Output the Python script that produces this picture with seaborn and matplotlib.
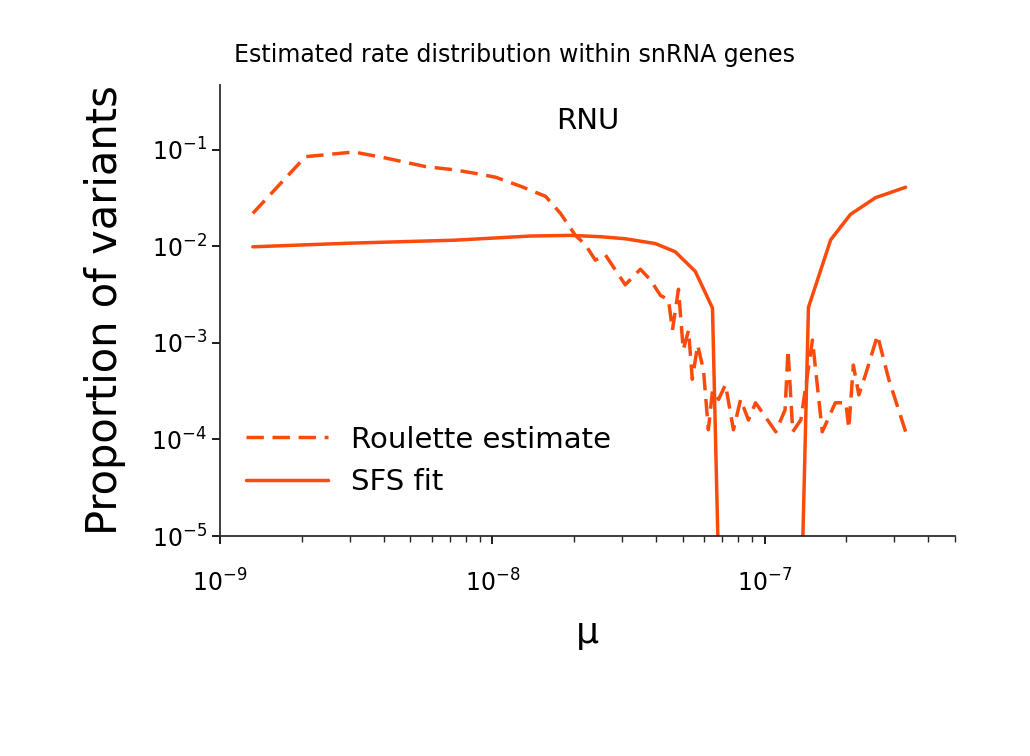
import numpy as np
import matplotlib
matplotlib.use("Agg")
import matplotlib.pyplot as plt
import seaborn as sns
import pandas as pd

roulette_mu = [1.32e-9, 2.06e-9, 3.1e-9, 4.0e-9, 5.7e-9, 7.3e-9, 9.0e-9, 1.03e-8, 1.27e-8, 1.57e-8,
               1.78e-8, 2.02e-8, 2.2e-8, 2.39e-8, 2.6e-8, 3.08e-8, 3.5e-8, 3.81e-8, 4.15e-8, 4.44e-8,
               4.59e-8, 4.83e-8, 5.03e-8, 5.26e-8, 5.43e-8, 5.68e-8, 5.97e-8, 6.22e-8, 6.44e-8, 6.78e-8,
               7.19e-8, 7.69e-8, 8.17e-8, 8.73e-8, 9.27e-8, 1.10e-7, 1.19e-7, 1.22e-7, 1.27e-7, 1.36e-7,
               1.50e-7, 1.63e-7, 1.82e-7, 1.99e-7, 2.04e-7, 2.12e-7, 2.22e-7, 2.35e-7, 2.60e-7, 2.86e-7, 3.30e-7]
roulette_p = [0.022, 0.085, 0.095, 0.083, 0.067, 0.062, 0.056, 0.052, 0.042, 0.033,
              0.022, 0.013, 0.0104, 0.0072, 0.0082, 0.004, 0.0058, 0.0045, 0.0031, 0.0028,
              0.00136, 0.0036, 0.00085, 0.00135, 0.00042, 0.00095, 0.00052, 0.000126, 0.00032, 0.00026,
              0.00037, 0.000126, 0.00026, 0.000159, 0.00024, 0.00012, 0.000203, 0.00085, 0.00012, 0.00016,
              0.00107, 0.00012, 0.00024, 0.00024, 0.00013, 0.00059, 0.00029, 0.00047, 0.0012, 0.00042, 0.00012]

sfs_mu = [1.32e-9, 3.0e-9, 7.3e-9, 1.38e-8, 1.94e-8, 2.5e-8, 3.08e-8, 3.97e-8, 4.7e-8, 5.57e-8,
          6.44e-8, 7.0e-8, 1.0e-7, 1.33e-7, 1.45e-7, 1.75e-7, 2.07e-7, 2.56e-7, 3.3e-7]
sfs_p = [0.0099, 0.0108, 0.0116, 0.0128, 0.013, 0.0126, 0.012, 0.0107, 0.0088, 0.0055,
         0.0023, 1e-7, 1e-9, 1e-7, 0.00233, 0.0117, 0.0215, 0.032, 0.041]

color = "#fa4a0c"
sns.set_theme(style="ticks")
plt.rcParams['font.family'] = ['DejaVu Sans']
plt.rcParams['text.color'] = 'black'
plt.rcParams['axes.labelcolor'] = 'black'

fig = plt.figure(figsize=(10.3, 7.56), dpi=100)
ax = fig.add_axes([0.2136, 0.291, 0.7134, 0.5966])

sns.lineplot(x=roulette_mu, y=roulette_p, ax=ax, color=color, lw=2.5, linestyle=(0, (5, 2.5)),
             label="Roulette estimate", estimator=None, sort=False)
sns.lineplot(x=sfs_mu, y=sfs_p, ax=ax, color=color, lw=2.5, label="SFS fit", estimator=None, sort=False)

ax.set_xscale("log")
ax.set_yscale("log")
ax.set_xlim(1e-9, 5.0e-7)
ax.set_ylim(1e-5, 0.47)
ax.set_yticks([1e-5, 1e-4, 1e-3, 1e-2, 1e-1])
ax.yaxis.set_minor_locator(matplotlib.ticker.NullLocator())
for s in ["top", "right"]:
    ax.spines[s].set_visible(False)
ax.tick_params(axis="both", labelsize=17, colors="black")
ax.tick_params(axis="x", pad=18)
ax.set_xlabel("μ", fontsize=26, labelpad=14)
ax.set_ylabel("Proportion of variants", fontsize=30, labelpad=18)
ax.text(0.5, 0.92, "RNU", transform=ax.transAxes, ha="center", va="center", fontsize=21)
fig.text(0.5, 0.927, "Estimated rate distribution within snRNA genes", ha="center", va="center",
         fontsize=17)
leg = ax.legend(loc="lower left", bbox_to_anchor=(0.0, 0.03), frameon=False, fontsize=21,
                handlelength=2.8)
fig.savefig("out.png", dpi=100)
